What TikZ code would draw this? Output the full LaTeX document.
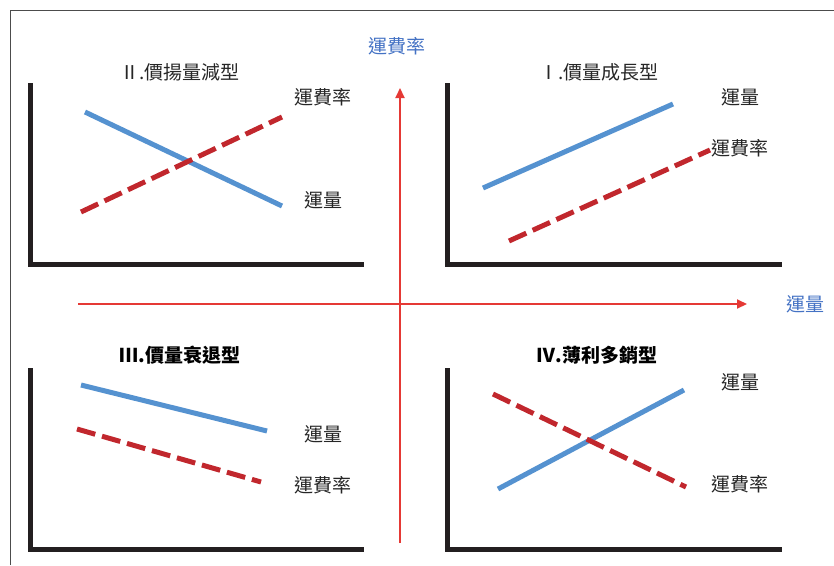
\documentclass[tikz,border=0pt]{standalone}
\usepackage{fontspec}
\newfontfamily\cjk{Noto Sans CJK TC}
\usetikzlibrary{arrows.meta}
\definecolor{axred}{HTML}{E53935}
\definecolor{lblue}{HTML}{4472C4}
\definecolor{lineblue}{HTML}{5592D0}
\definecolor{dred}{HTML}{C1272D}
\definecolor{axblack}{HTML}{231F20}
\tikzset{
  lbl/.style={font=\cjk\fontsize{19}{20}\selectfont, text=black!85, inner sep=0pt},
  ttl/.style={font=\cjk\fontsize{19}{20}\selectfont, text=black!85, inner sep=0pt},
  bttl/.style={font=\cjk\bfseries\fontsize{19}{20}\selectfont, text=black, inner sep=0pt},
  axlbl/.style={font=\cjk\fontsize{19}{20}\selectfont, text=lblue, inner sep=0pt},
  frameaxis/.style={draw=axblack, line width=5pt},
  vol/.style={draw=lineblue, line width=5pt},
  rate/.style={draw=dred, line width=5pt, dash pattern=on 19pt off 7pt},
  redarrow/.style={draw=axred, line width=2pt, -{Triangle[length=10pt,width=9pt]}}
}
\begin{document}
\begin{tikzpicture}[x=1pt,y=-1pt]
\useasboundingbox (0,0) rectangle (834,565);
% outer frame
\draw[black!70, line width=0.9pt] (10,565) -- (10,10) -- (834,10);

% quadrant II (top-left)
\draw[frameaxis] (30,83) -- (30,264.5) -- (364,264.5);
\coordinate (q2v1) at (85,112); \coordinate (q2v2) at (282,206);
\coordinate (q2r1) at (81,212); \coordinate (q2r2) at (282,117);
\draw[vol] (q2v1) -- (q2v2);
\draw[rate] (q2r1) -- (q2r2);
\node[ttl] (t2) at (180,72) {Ⅱ.價揚量減型};
\node[lbl] (q2rl) at (323,97) {運費率};
\node[lbl] (q2vl) at (323,200) {運量};

% quadrant I (top-right)
\draw[frameaxis] (447.5,83) -- (447.5,264.5) -- (782,264.5);
\coordinate (q1v1) at (483,188); \coordinate (q1v2) at (673,104);
\coordinate (q1r1) at (509,241); \coordinate (q1r2) at (710,150);
\draw[vol] (q1v1) -- (q1v2);
\draw[rate] (q1r1) -- (q1r2);
\node[ttl] (t1) at (599,72) {Ⅰ.價量成長型};
\node[lbl] (q1vl) at (740,97) {運量};
\node[lbl] (q1rl) at (740,148) {運費率};

% quadrant III (bottom-left)
\draw[frameaxis] (30,368) -- (30,549) -- (364,549);
\coordinate (q3v1) at (81,385); \coordinate (q3v2) at (267,431);
\coordinate (q3r1) at (77,429); \coordinate (q3r2) at (261,482);
\draw[vol] (q3v1) -- (q3v2);
\draw[rate] (q3r1) -- (q3r2);
\node[bttl] (t3) at (180,355) {Ⅲ.價量衰退型};
\node[lbl] (q3vl) at (323,434) {運量};
\node[lbl] (q3rl) at (323,485) {運費率};

% quadrant IV (bottom-right)
\draw[frameaxis] (447.5,368) -- (447.5,549) -- (782,549);
\coordinate (q4v1) at (498,489); \coordinate (q4v2) at (684,390);
\coordinate (q4r1) at (493,394); \coordinate (q4r2) at (686,487);
\draw[vol] (q4v1) -- (q4v2);
\draw[rate] (q4r1) -- (q4r2);
\node[bttl] (t4) at (597,355) {Ⅳ.薄利多銷型};
\node[lbl] (q4vl) at (740,382) {運量};
\node[lbl] (q4rl) at (740,484) {運費率};

% central axes
\coordinate (vbot) at (400,543); \coordinate (vtop) at (400,88);
\coordinate (hleft) at (78,304); \coordinate (hright) at (747,304);
\draw[redarrow] (vbot) -- (vtop);
\draw[redarrow] (hleft) -- (hright);
\node[axlbl] (ylab) at (397,46) {運費率};
\node[axlbl] (xlab) at (805,304) {運量};
\end{tikzpicture}
\end{document}
